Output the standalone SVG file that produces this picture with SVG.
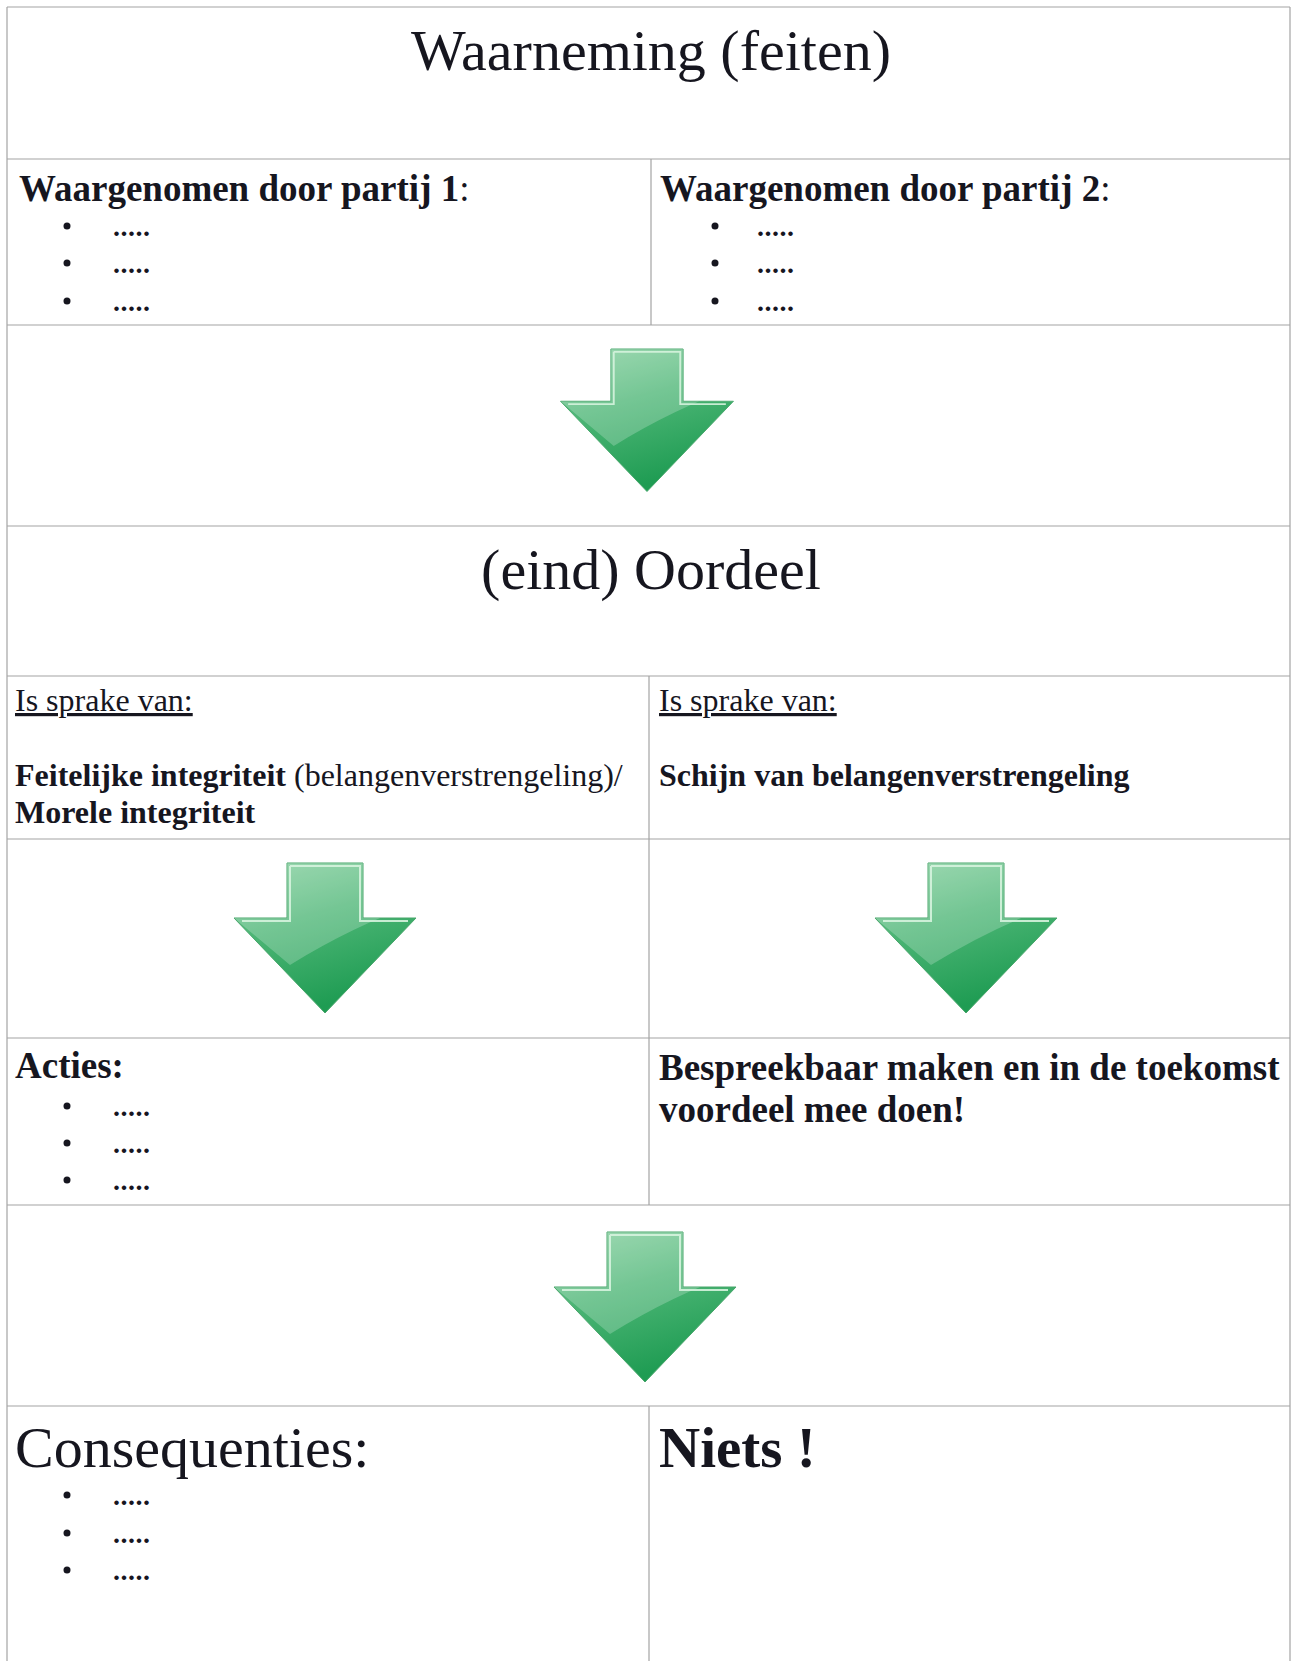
<svg xmlns="http://www.w3.org/2000/svg" width="1292" height="1661" viewBox="0 0 1292 1661">
<style>
.t{font-family:"Liberation Serif","Times New Roman",serif;fill:#16161f}
.b{font-weight:bold}
.big{font-size:58px}
.h{font-size:37px;font-weight:bold}
.m{font-size:32px}
.dot{font-size:28px;letter-spacing:0.5px;font-weight:bold}
.bul{fill:#16161f}
.grid line{stroke:#a3a3a3;stroke-width:1.2}
</style>
<defs>
<linearGradient id="ag" x1="0" y1="0" x2="0.35" y2="1">
<stop offset="0" stop-color="#86d09f"/>
<stop offset="0.45" stop-color="#4db676"/>
<stop offset="1" stop-color="#1f9c53"/>
</linearGradient>
<clipPath id="ac"><path d="M-38,0 H38 V55 H91 L0,150 L-91,55 H-38 Z"/></clipPath>
<g id="arrow">
<path d="M-38,0 H38 V55 H91 L0,150 L-91,55 H-38 Z" fill="url(#ag)" stroke="#48a66b" stroke-width="1"/>
<path d="M-91,55 H-38 V0 H38 V55 H91 L92,41 Q30,62 -35,102 L-91,55 Z" fill="#ffffff" opacity="0.22" clip-path="url(#ac)"/>
<path d="M-35,3 H35 V58 H83 M-35,3 V58 H-83" fill="none" stroke="#d6f3de" stroke-width="2" opacity="0.9"/>
</g>
</defs>
<rect width="1292" height="1661" fill="#ffffff"/>
<g class="grid" id="grid">
<line x1="7" y1="7" x2="1290" y2="7"/>
<line x1="7" y1="7" x2="7" y2="1661"/>
<line x1="1290" y1="7" x2="1290" y2="1661"/>
<line x1="7" y1="159" x2="1290" y2="159"/>
<line x1="7" y1="325" x2="1290" y2="325"/>
<line x1="7" y1="526" x2="1290" y2="526"/>
<line x1="7" y1="676" x2="1290" y2="676"/>
<line x1="7" y1="839" x2="1290" y2="839"/>
<line x1="7" y1="1038" x2="1290" y2="1038"/>
<line x1="7" y1="1205" x2="1290" y2="1205"/>
<line x1="7" y1="1406" x2="1290" y2="1406"/>
<line x1="651" y1="159" x2="651" y2="325"/>
<line x1="649" y1="676" x2="649" y2="1205"/>
<line x1="649" y1="1406" x2="649" y2="1661"/>
</g>
<g id="connectors">
<use href="#arrow" transform="translate(647,349) scale(0.95)"/>
<use href="#arrow" transform="translate(325,863)"/>
<use href="#arrow" transform="translate(966,863)"/>
<use href="#arrow" transform="translate(645,1232)"/>
</g>
<g id="waarneming">
<text class="t big" x="651" y="70" text-anchor="middle">Waarneming (feiten)</text>
</g>
<g id="partij1">
<text class="t h" x="19" y="201">Waargenomen door partij 1<tspan font-weight="normal">:</tspan></text>
<circle class="bul" cx="67" cy="226" r="3.5"/><text class="t dot" x="113" y="236">.....</text>
<circle class="bul" cx="67" cy="263" r="3.5"/><text class="t dot" x="113" y="273">.....</text>
<circle class="bul" cx="67" cy="301" r="3.5"/><text class="t dot" x="113" y="311">.....</text>
</g>
<g id="partij2">
<text class="t h" x="660" y="201">Waargenomen door partij 2<tspan font-weight="normal">:</tspan></text>
<circle class="bul" cx="715" cy="226" r="3.5"/><text class="t dot" x="757" y="236">.....</text>
<circle class="bul" cx="715" cy="263" r="3.5"/><text class="t dot" x="757" y="273">.....</text>
<circle class="bul" cx="715" cy="301" r="3.5"/><text class="t dot" x="757" y="311">.....</text>
</g>
<g id="oordeel">
<text class="t big" x="651" y="589" text-anchor="middle">(eind) Oordeel</text>
</g>
<g id="feitelijk">
<text class="t m" x="15" y="711" text-decoration="underline">Is sprake van:</text>
<text class="t m" x="15" y="786"><tspan font-weight="bold">Feitelijke integriteit</tspan> (belangenverstrengeling)/</text>
<text class="t m b" x="15" y="823">Morele integriteit</text>
</g>
<g id="schijn">
<text class="t m" x="659" y="711" text-decoration="underline">Is sprake van:</text>
<text class="t m b" x="659" y="786">Schijn van belangenverstrengeling</text>
</g>
<g id="acties">
<text class="t h" x="15" y="1078">Acties:</text>
<circle class="bul" cx="67" cy="1106" r="3.5"/><text class="t dot" x="113" y="1116">.....</text>
<circle class="bul" cx="67" cy="1143" r="3.5"/><text class="t dot" x="113" y="1153">.....</text>
<circle class="bul" cx="67" cy="1180" r="3.5"/><text class="t dot" x="113" y="1190">.....</text>
</g>
<g id="bespreekbaar">
<text class="t h" x="659" y="1080">Bespreekbaar maken en in de toekomst</text>
<text class="t h" x="659" y="1122">voordeel mee doen!</text>
</g>
<g id="consequenties">
<text class="t big" x="15" y="1467">Consequenties:</text>
<circle class="bul" cx="67" cy="1495" r="3.5"/><text class="t dot" x="113" y="1505">.....</text>
<circle class="bul" cx="67" cy="1533" r="3.5"/><text class="t dot" x="113" y="1543">.....</text>
<circle class="bul" cx="67" cy="1570" r="3.5"/><text class="t dot" x="113" y="1580">.....</text>
</g>
<g id="niets">
<text class="t b" x="659" y="1467" font-size="57">Niets !</text>
</g>
</svg>
